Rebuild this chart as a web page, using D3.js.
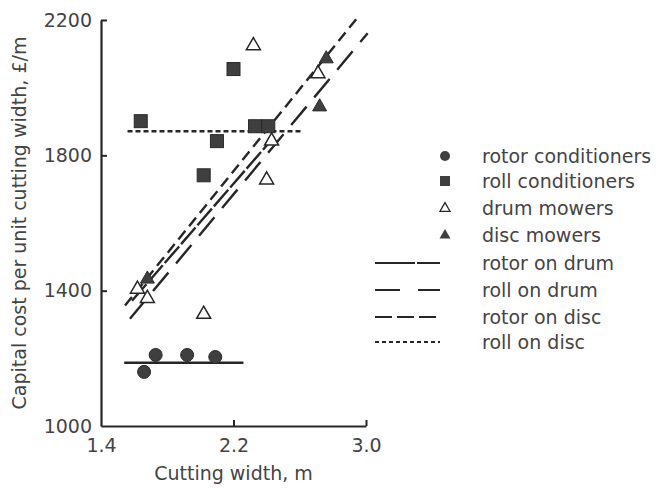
<!DOCTYPE html>
<html><head><meta charset="utf-8">
<script src="https://cdn.jsdelivr.net/npm/d3@7"></script>
<style>
html,body{margin:0;padding:0;background:#fff;}
svg{display:block;}
text{font-family:"DejaVu Sans",sans-serif;fill:#444;}
</style></head>
<body>
<script>
// ---- data ----
const xTicks = [1.4, 2.2, 3.0];
const yTicks = [1000, 1400, 1800, 2200];
const rotorX = [1.66, 1.73, 1.92, 2.09];
const rotorY = [1160, 1210, 1210, 1204];
const rollX = [1.64, 2.02, 2.10, 2.20, 2.33, 2.41];
const rollY = [1901, 1741, 1842, 2055, 1886, 1886];
const drumX = [1.62, 1.68, 2.02, 2.32, 2.40, 2.43, 2.71];
const drumY = [1406, 1379, 1332, 2126, 1729, 1844, 2043];
const discX = [1.68, 2.72, 2.76];
const discY = [1436, 1945, 2087];
// fitted lines: endpoints
const rotorFlatX = [1.54, 2.26], rotorFlatY = [1187, 1187];
const rollFlatX = [1.56, 2.61], rollFlatY = [1871, 1871];
const rotorDrumX = [1.587, 2.43], rotorDrumY = [1370, 1846];
const rollDrumX = [1.575, 3.01], rollDrumY = [1317, 2161];
const rotorDiscX = [1.545, 2.945], rotorDiscY = [1356, 2205];
const seriesNames = ["rotor conditioners","roll conditioners","drum mowers","disc mowers"];
const lineNames = ["rotor on drum","roll on drum","rotor on disc","roll on disc"];

const W = 656, H = 489;
const svg = d3.select("body").append("svg").attr("width", W).attr("height", H);
const x = d3.scaleLinear().domain([1.4, 3.0]).range([101, 366]);
const y = d3.scaleLinear().domain([1000, 2200]).range([426, 20]);
const ink = "#262626", fillC = "#3f3f3f";

// axes
const gy = svg.append("g").attr("transform", `translate(${x(1.4)},0)`)
  .call(d3.axisLeft(y).tickValues(yTicks).tickFormat(d3.format("d")).tickSizeInner(-6).tickSizeOuter(0).tickPadding(9));
const gx = svg.append("g").attr("transform", `translate(0,${y(1000)})`)
  .call(d3.axisBottom(x).tickValues(xTicks).tickFormat(d3.format(".1f")).tickSizeInner(-6).tickSizeOuter(0).tickPadding(13));
[gy, gx].forEach(g => {
  g.select(".domain").attr("stroke", ink).attr("stroke-width", 2.2);
  g.selectAll(".tick line").attr("stroke", ink).attr("stroke-width", 2);
  g.selectAll(".tick text").attr("font-size", 19).attr("font-family", "DejaVu Sans").attr("fill", "#444");
});
gy.selectAll(".tick").filter(d => d === 1000).select("line").remove();
gx.selectAll(".tick").filter(d => d === 1.4).select("line").remove();

svg.append("text").attr("x", x(2.2)).attr("y", 480).attr("text-anchor", "middle")
  .attr("font-size", 19).text("Cutting width, m");
svg.append("text").attr("transform", `translate(26,${(y(1000)+y(2200))/2}) rotate(-90)`)
  .attr("text-anchor", "middle").attr("font-size", 19).text("Capital cost per unit cutting width, £/m");

// line styles
const styles = {
  rotorFlat: null,
  rotorDrum: "22,3",
  rollDrum: "24,12",
  rotorDisc: "11,6",
  rollDisc: "5,3"
};
function seg(xs, ys, dash) {
  svg.append("line").attr("x1", x(xs[0])).attr("y1", y(ys[0])).attr("x2", x(xs[1])).attr("y2", y(ys[1]))
    .attr("stroke", ink).attr("stroke-width", 2.4).attr("stroke-dasharray", dash);
}
seg(rotorFlatX, rotorFlatY, styles.rotorFlat);
seg(rollFlatX, rollFlatY, styles.rollDisc);
seg(rotorDrumX, rotorDrumY, styles.rotorDrum);
seg(rollDrumX, rollDrumY, styles.rollDrum);
seg(rotorDiscX, rotorDiscY, styles.rotorDisc);

// markers
function tri(cx, cy, s) {
  const h = s * 0.866;
  return `M${cx},${cy - h*0.62}L${cx + s/2},${cy + h*0.38}L${cx - s/2},${cy + h*0.38}Z`;
}
const pts = (xs, ys) => xs.map((v, i) => [v, ys[i]]);
svg.append("g").selectAll("circle").data(pts(rotorX, rotorY)).join("circle")
  .attr("cx", d => x(d[0])).attr("cy", d => y(d[1])).attr("r", 6.5)
  .attr("fill", fillC).attr("stroke", "#2a2a2a").attr("stroke-width", 1);
svg.append("g").selectAll("rect").data(pts(rollX, rollY)).join("rect")
  .attr("x", d => x(d[0]) - 6.5).attr("y", d => y(d[1]) - 6.5).attr("width", 13).attr("height", 13)
  .attr("fill", fillC).attr("stroke", "#2a2a2a").attr("stroke-width", 1);
svg.append("g").selectAll("path").data(pts(drumX, drumY)).join("path")
  .attr("d", d => tri(x(d[0]), y(d[1]), 14))
  .attr("fill", "#fff").attr("stroke", ink).attr("stroke-width", 1.5);
svg.append("g").selectAll("path").data(pts(discX, discY)).join("path")
  .attr("d", d => tri(x(d[0]), y(d[1]), 14))
  .attr("fill", fillC).attr("stroke", "#2a2a2a").attr("stroke-width", 1);

// legend
const lg = svg.append("g");
const mx = 445, tx = 482;
const rowY = [156, 181, 208, 235, 263, 290, 317, 342];
lg.append("circle").attr("cx", mx).attr("cy", rowY[0]).attr("r", 5).attr("fill", fillC);
lg.append("rect").attr("x", mx - 5).attr("y", rowY[1] - 5).attr("width", 10).attr("height", 10).attr("fill", fillC);
lg.append("path").attr("d", tri(mx, rowY[2], 10)).attr("fill", "#fff").attr("stroke", ink).attr("stroke-width", 1.3);
lg.append("path").attr("d", tri(mx, rowY[3], 11)).attr("fill", fillC);
const lgDash = ["40,2", "25,18", "17,5", "4,3"];
lineNames.forEach((n, i) => {
  lg.append("line").attr("x1", 375).attr("x2", 440).attr("y1", rowY[4+i]).attr("y2", rowY[4+i])
    .attr("stroke", ink).attr("stroke-width", 2).attr("stroke-dasharray", lgDash[i]);
});
seriesNames.concat(lineNames).forEach((n, i) => {
  lg.append("text").attr("x", tx).attr("y", rowY[i]).attr("dy", "0.35em").attr("font-size", 19).text(n);
});
</script>
</body></html>
